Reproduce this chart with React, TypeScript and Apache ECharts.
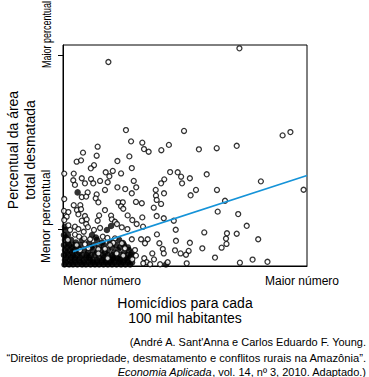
import React, { useEffect, useRef } from "react";
import * as echarts from "echarts";

// Horizontal: homicídios por 100 mil hab. (0 = menor, 100 = maior)
// Vertical: percentual da área total desmatada (0 = menor, 100 = maior)
const municipiosAbertos: [number, number][] = [
  [18.6, 92.3], [72.3, 98.5], [25.8, 61.5], [49.6, 61.1], [90.0, 59.1], [93.2, 60.6],
  [55.7, 52.8], [63.0, 53.3], [71.2, 54.4], [58.9, 41.5], [52.0, 39.7], [48.4, 40.4],
  [27.9, 56.4], [32.5, 55.8], [14.2, 54.0], [33.2, 52.9], [35.1, 51.7], [40.3, 52.4],
  [43.4, 54.8], [8.2, 51.3], [13.8, 49.9], [27.2, 49.6], [5.6, 47.2], [7.4, 47.8],
  [22.3, 47.5], [12.7, 45.6], [11.4, 44.2], [28.2, 44.3], [0.5, 41.8], [4.4, 41.8],
  [17.5, 42.4], [20.4, 43.0], [23.8, 41.9], [19.0, 40.6], [43.9, 42.5], [47.0, 42.4],
  [41.5, 39.2], [81.1, 38.3], [4.2, 38.8], [7.7, 39.7], [11.5, 39.4], [15.2, 38.5],
  [4.9, 36.7], [9.0, 37.4], [12.4, 37.4], [18.3, 37.9], [29.0, 38.5], [40.2, 37.4],
  [48.8, 37.4], [22.3, 35.6], [25.5, 34.8], [30.0, 35.6], [17.2, 34.4], [38.0, 34.4],
  [54.5, 34.4], [63.1, 34.4], [98.6, 34.5], [10.1, 33.3], [13.8, 32.4], [28.2, 32.9],
  [7.7, 31.2], [9.5, 31.4], [13.4, 30.6], [0.5, 30.3], [52.3, 32.0], [38.1, 31.8],
  [41.4, 32.9], [14.5, 28.8], [22.7, 28.8], [24.5, 28.8], [29.9, 29.0], [32.3, 28.4],
  [66.4, 29.5], [4.4, 27.5], [7.1, 27.5], [23.8, 27.0], [37.2, 26.4], [40.2, 28.1],
  [5.7, 25.3], [7.4, 25.7], [17.2, 25.3], [24.7, 25.9], [0.4, 24.9], [2.2, 24.4],
  [6.3, 23.4], [9.0, 22.6], [1.5, 22.3], [14.8, 22.9], [19.7, 22.8], [26.5, 22.9],
  [63.4, 24.6], [71.8, 23.5], [0.5, 20.8], [7.7, 20.5], [9.7, 21.1], [14.2, 20.5],
  [20.0, 21.1], [21.3, 20.0], [28.4, 20.8], [32.5, 22.0], [38.4, 22.6], [41.3, 21.6],
  [45.4, 20.5], [2.2, 18.4], [4.9, 17.8], [9.5, 19.0], [10.2, 17.6], [22.1, 19.0],
  [24.1, 17.5], [26.4, 16.7], [30.2, 19.0], [32.8, 17.8], [75.3, 18.2], [2.9, 16.3],
  [6.3, 16.7], [8.5, 15.5], [46.2, 16.4], [57.9, 15.2], [67.2, 14.8], [71.2, 14.6],
  [16.3, 13.3], [4.9, 14.2], [6.6, 13.3], [8.7, 12.5], [11.1, 12.1], [18.2, 12.7],
  [21.3, 12.5], [28.2, 12.1], [32.0, 12.1], [34.7, 12.1], [38.5, 14.3], [46.3, 11.4],
  [52.0, 10.5], [66.8, 12.4], [80.0, 12.1], [5.6, 9.5], [9.0, 9.8], [20.6, 10.5],
  [24.1, 10.3], [33.6, 10.3], [39.5, 10.3], [67.0, 10.0], [10.4, 8.1], [14.5, 7.6],
  [17.2, 7.8], [25.4, 8.0], [29.5, 7.2], [57.1, 8.0], [65.0, 8.3], [40.9, 7.7],
  [45.9, 7.1], [51.5, 6.8], [36.6, 5.7], [24.7, 4.7], [29.9, 4.7], [41.3, 5.7],
  [48.2, 5.7], [33.3, 3.5], [62.3, 3.8], [77.7, 2.9], [83.8, 1.9], [72.5, 1.5],
  [42.9, 1.7], [39.8, 0.8], [34.3, 1.7], [50.7, 1.2], [18.3, 3.5],
  [28.4, 3.0], [38.4, 29.9], [50.4, 5.1], [37.3, 3.0], [32.9, 1.2], [35.7, 0.8],
  [7.0, 7.2], [14.5, 5.7], [22.0, 5.7],
  [12.7, 16.3], [15.2, 17.2], [19.3, 9.5], [2.0, 11.8],
];

const municipiosCheios: [number, number][] = [
  [0.6, 0.7], [2.5, 0.7], [4.1, 0.7], [5.9, 0.7], [7.8, 0.7], [9.4, 0.7], [11.3, 0.7],
  [13.1, 0.7], [14.8, 0.7], [16.6, 0.7], [18.4, 0.7], [20.1, 0.7], [21.9, 0.7],
  [23.8, 0.7], [25.6, 0.7], [27.5, 0.7], [42.2, 0.7],
  [1.2, 1.6], [3.3, 1.6], [5.1, 1.6], [7.0, 1.6], [8.6, 1.6], [10.5, 1.6], [12.3, 1.6],
  [13.9, 1.6], [15.8, 1.6], [17.6, 1.6], [19.3, 1.6], [21.1, 1.6], [23.0, 1.6],
  [24.6, 1.6], [26.6, 1.6], [28.3, 1.6],
  [0.8, 2.7], [2.9, 2.7], [4.9, 2.7], [6.6, 2.7], [8.6, 2.7], [11.1, 2.7], [12.3, 2.7],
  [13.9, 2.7], [16.0, 2.7], [17.6, 2.7], [19.7, 2.7], [20.6, 3.0], [22.7, 3.3],
  [23.4, 2.7], [25.0, 2.7], [26.6, 2.7],
  [1.4, 3.8], [3.3, 3.8], [4.9, 3.8], [7.0, 3.8], [9.4, 3.8], [10.7, 3.8], [14.8, 3.8],
  [16.8, 3.8], [20.5, 3.8], [22.1, 3.8], [27.5, 3.8],
  [0.4, 5.0], [2.0, 5.0], [4.1, 5.0], [5.7, 5.0], [7.8, 5.0], [9.7, 5.0], [11.5, 5.0],
  [13.1, 5.0], [16.4, 5.0], [18.4, 5.0], [20.1, 5.0], [23.8, 5.0], [26.2, 5.0],
  [27.9, 5.0],
  [1.6, 6.1], [3.7, 6.1], [6.6, 6.1], [10.2, 6.1], [13.9, 6.1], [17.2, 6.1], [20.9, 6.1],
  [25.0, 6.1], [28.3, 6.1],
  [0.8, 7.2], [2.9, 7.2], [4.9, 7.2], [8.6, 7.2], [12.3, 7.2], [15.6, 7.2], [18.4, 7.2],
  [22.5, 7.2], [27.0, 7.2],
  [1.6, 8.4], [3.7, 8.4], [6.1, 8.4], [11.5, 8.4], [14.8, 8.4], [20.1, 8.4], [23.4, 8.4],
  [26.6, 8.4],
  [0.4, 9.5], [2.5, 9.5], [4.5, 9.5], [7.0, 9.5], [12.7, 9.5], [16.8, 9.5], [21.7, 9.5],
  [25.0, 9.5],
  [2.0, 10.6], [5.3, 10.6], [10.7, 10.6], [16.0, 10.6], [19.3, 10.6],
  [0.8, 11.8], [3.3, 11.8], [7.8, 11.8], [13.9, 11.8], [23.0, 11.8],
  [1.2, 12.9], [13.5, 12.9],
  [0.4, 14.0], [2.0, 14.0], [11.9, 14.0],
  [0.8, 16.3], [18.0, 16.3],
  [6.0, 33.3], [19.7, 18.1], [0.8, 17.8], [25.8, 3.6], [24.6, 10.4],
];

const tendencia: [number, number][] = [
  [4.1, 6.5],
  [100, 40.9],
];

const marcasY = [16.7, 95.5];

const FONT = '"Liberation Sans", Arial, Helvetica, sans-serif';

export default function App() {
  const ref = useRef<HTMLDivElement>(null);

  useEffect(() => {
    if (!ref.current) return;
    const chart = echarts.init(ref.current, undefined, { renderer: "svg" });
    chart.setOption({
      animation: false,
      backgroundColor: "#ffffff",
      grid: {
        left: 63,
        top: 45,
        width: 244,
        height: 221,
        show: true,
        borderColor: "#000",
        borderWidth: 1,
        backgroundColor: "transparent",
      },
      xAxis: {
        type: "value",
        min: 0,
        max: 100,
        splitLine: { show: false },
        axisLine: { show: true, lineStyle: { color: "#000", width: 1 } },
        axisTick: { show: false },
        axisLabel: { show: false },
      },
      yAxis: {
        type: "value",
        min: 0,
        max: 100,
        splitLine: { show: false },
        axisLine: { show: true, lineStyle: { color: "#000", width: 1 } },
        axisTick: {
          show: true,
          customValues: marcasY,
          length: 5,
          lineStyle: { color: "#000", width: 1 },
        },
        axisLabel: { show: false },
      },
      series: [
        {
          type: "scatter",
          data: municipiosCheios,
          symbol: "circle",
          symbolSize: 6.5,
          itemStyle: { color: "#000" },
          z: 2,
        },
        {
          type: "scatter",
          data: municipiosAbertos,
          symbol: "circle",
          symbolSize: 5,
          itemStyle: { color: "#fff", borderColor: "#000", borderWidth: 1.3 },
          z: 3,
        },
        {
          type: "line",
          data: tendencia,
          symbol: "none",
          lineStyle: { color: "#1593d8", width: 1.6 },
          z: 4,
        },
      ],
      graphic: [
        {
          type: "text",
          x: 21,
          y: 150,
          rotation: Math.PI / 2,
          style: {
            text: "Percentual da área\ntotal desmatada",
            font: `14px ${FONT}`,
            fill: "#000",
            align: "center",
            verticalAlign: "middle",
            lineHeight: 17,
          },
        },
        {
          type: "text",
          x: 46,
          y: 68,
          rotation: Math.PI / 2,
          scaleX: 0.75,
          style: {
            text: "Maior percentual",
            font: `12px ${FONT}`,
            fill: "#000",
            align: "left",
            verticalAlign: "middle",
          },
        },
        {
          type: "text",
          x: 46,
          y: 263,
          rotation: Math.PI / 2,
          style: {
            text: "Menor percentual",
            font: `12px ${FONT}`,
            fill: "#000",
            align: "left",
            verticalAlign: "middle",
          },
        },
        {
          type: "text",
          x: 63,
          y: 281,
          style: {
            text: "Menor número",
            font: `12px ${FONT}`,
            fill: "#000",
            align: "left",
            verticalAlign: "middle",
          },
        },
        {
          type: "text",
          x: 265,
          y: 281,
          style: {
            text: "Maior número",
            font: `12px ${FONT}`,
            fill: "#000",
            align: "left",
            verticalAlign: "middle",
          },
        },
        {
          type: "text",
          x: 185,
          y: 310,
          style: {
            text: "Homicídios para cada\n100 mil habitantes",
            font: `14px ${FONT}`,
            fill: "#000",
            align: "center",
            verticalAlign: "middle",
            lineHeight: 15,
          },
        },
        {
          type: "text",
          x: 366,
          y: 342,
          style: {
            text: "(André A. Sant'Anna e Carlos Eduardo F. Young.",
            font: `11px ${FONT}`,
            fill: "#000",
            align: "right",
            verticalAlign: "middle",
          },
        },
        {
          type: "text",
          x: 366,
          y: 357.5,
          style: {
            text: "“Direitos de propriedade, desmatamento e conflitos rurais na Amazônia”.",
            font: `11.2px ${FONT}`,
            fill: "#000",
            align: "right",
            verticalAlign: "middle",
          },
        },
        {
          type: "text",
          x: 366,
          y: 372,
          style: {
            text: "{i|Economia Aplicada}, vol. 14, nº 3, 2010. Adaptado.)",
            font: `11px ${FONT}`,
            fill: "#000",
            align: "right",
            verticalAlign: "middle",
            rich: {
              i: { fontStyle: "italic", fontSize: 11, fontFamily: FONT, fill: "#000" },
            },
          },
        },
      ],
    });
    return () => chart.dispose();
  }, []);

  return (
    <div
      ref={ref}
      style={{ position: "fixed", left: 0, top: 0, width: 369, height: 377 }}
    />
  );
}
